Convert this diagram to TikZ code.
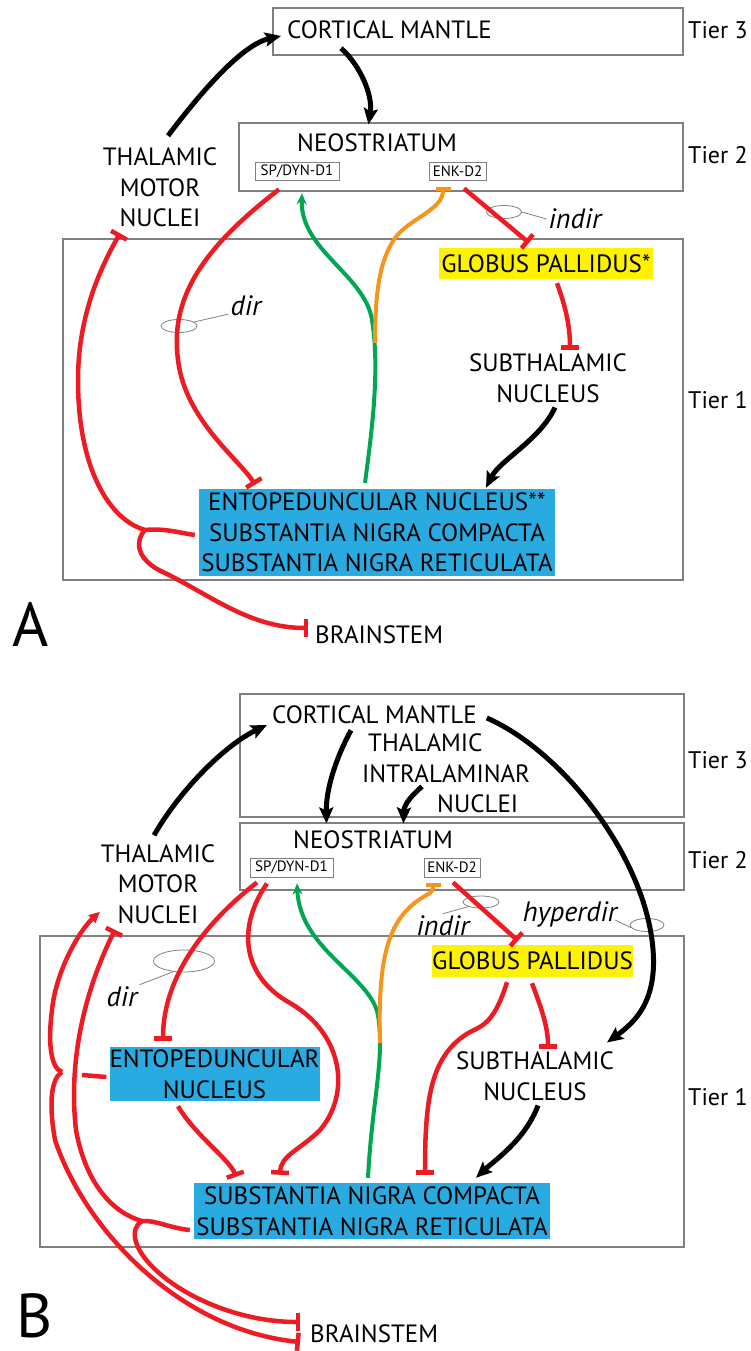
\documentclass[tikz,border=0pt]{standalone}
\usepackage{fontspec}
\setmainfont{PT Sans}
\usepackage{tikz}
\usetikzlibrary{calc, shapes.geometric, arrows.meta, positioning}

\definecolor{inhred}{RGB}{237,28,36}
\definecolor{dagreen}{RGB}{0,166,81}
\definecolor{enkorange}{RGB}{247,148,29}
\definecolor{nucblue}{RGB}{41,171,226}
\definecolor{gpyellow}{RGB}{255,242,0}
\definecolor{boxgray}{RGB}{128,128,128}

\begin{document}
\begin{tikzpicture}[
  x=1pt, y=-1pt,
  every node/.style={font=\fontsize{25}{30.5}\selectfont, inner sep=2pt},
  tierbox/.style={draw=boxgray, line width=1.1pt, inner sep=0pt},
  subbox/.style={draw=boxgray, line width=0.9pt, inner sep=0pt,
    font=\fontsize{15}{18}\selectfont},
  nucleus/.style={fill=nucblue, align=center, inner sep=0pt},
  pallidum/.style={fill=gpyellow, inner sep=0pt},
  ring/.style={ellipse, draw=boxgray, line width=0.8pt, inner sep=0pt},
  pathname/.style={font=\fontsize{28}{30}\selectfont\itshape},
  leader/.style={draw=boxgray, line width=0.8pt},
  tierlabel/.style={anchor=east, font=\fontsize{24}{30}\selectfont},
  panel/.style={anchor=west, font=\fontsize{62}{62}\selectfont},
  redline/.style={draw=inhred, line width=4.5pt},
  inhib/.style={redline, -{Bar[width=18pt]}},
  excite/.style={draw=black, line width=5pt,
    -{Stealth[length=16pt,width=14pt,inset=3pt]}},
  dopa/.style={draw=dagreen, line width=4pt, -{Stealth[length=11pt,width=10pt]}},
  enk/.style={draw=enkorange, line width=4pt, -{Bar[width=15pt]}}
]
\useasboundingbox (0,0) rectangle (750,1351);

% Panel A
\node[tierbox, minimum width=410, minimum height=47] (tierThreeA) at (478,31.5) {};
\node[tierbox, minimum width=444, minimum height=68] (tierTwoA) at (461,157) {};
\node[tierbox, minimum width=620, minimum height=341] (tierOneA) at (373,409.5) {};

\node[anchor=west] (cortA) at (285,30) {CORTICAL MANTLE};
\node (neoA) at (377,143) {NEOSTRIATUM};
\node[subbox, minimum width=84, minimum height=18] (dOneA) at (297,171) {SP/DYN-D1};
\node[subbox, minimum width=57, minimum height=18] (dTwoA) at (457.5,171) {ENK-D2};
\node[align=center] (thmA) at (160,187.5) {THALAMIC\\MOTOR\\NUCLEI};
\node[pallidum, minimum width=214, minimum height=31] (gpA) at (546,263.5) {GLOBUS PALLIDUS*};
\node[align=center] (stnA) at (548,378) {SUBTHALAMIC\\NUCLEUS};
\node[nucleus, minimum width=356, minimum height=87] (outA) at (377,532.5)
  {ENTOPEDUNCULAR NUCLEUS**\\SUBSTANTIA NIGRA COMPACTA\\SUBSTANTIA NIGRA RETICULATA};
\node[anchor=west] (brainA) at (313,635) {BRAINSTEM};

\node[tierlabel] (tThreeA) at (750,30) {Tier 3};
\node[tierlabel] (tTwoA) at (750,155) {Tier 2};
\node[tierlabel] (tOneA) at (750,400) {Tier 1};
\node[panel] (panelA) at (10,624) {A};

\node[ring, minimum width=36, minimum height=13] (dirRingA) at (179,326) {};
\node[pathname] (dirA) at (246,306) {dir};
\node[ring, minimum width=35, minimum height=13] (indirRingA) at (504,212) {};
\node[pathname] (indirA) at (575,219) {indir};

  % Draw pathways
  \draw[excite] ($(thmA.north)+(8,-10)$) .. controls (195,100) and (240,45) .. ($(cortA.west)+(-4,6)$);
  \draw[excite] ($(cortA.south west)+(56,7)$) .. controls (360,65) and (373,95) .. ($(tierTwoA.north west)+(130,2)$);
  \draw[inhib] ($(dOneA.south)+(-18,9)$) .. controls (200,250) and (170,300) .. (178,360)
    .. controls (185,420) and (240,460) .. ($(outA.north)+(-122,-4)$);
  \draw[dopa] ($(outA.north)+(-12,-6)$) .. controls (372,430) and (380,370) .. (372,320)
    .. controls (365,275) and (300,250) .. ($(dOneA.south)+(5,13)$);
  \coordinate (enkJoinA) at (375,343);
  \draw[enk] (enkJoinA) .. controls (375,290) and (380,260) .. (395,238)
    .. controls (410,218) and (443,210) .. ($(dTwoA.south)+(-14.5,7)$);
  \draw[inhib] ($(dTwoA.south)+(6.5,8)$) -- ($(gpA.north)+(-17,-5)$);
  \draw[inhib] ($(gpA.south)+(11,4)$) .. controls (565,305) and (570,325) .. ($(stnA.north)+(22,-2)$);
  \draw[excite] ($(stnA.south)+(7,3)$) .. controls (540,440) and (500,460) .. ($(outA.north)+(109,-1)$);

  \coordinate (forkA) at (145,530);
  \draw[redline] ($(outA.west)+(-4,2.5)$) .. controls (180,533) and (165,528) .. (forkA);
  \draw[inhib] (forkA) .. controls (110,520) and (78,470) .. (78,380)
    .. controls (78,310) and (105,260) .. ($(thmA.south)+(-40,4)$);
  \draw[inhib] (forkA) .. controls (135,540) and (135,560) .. (165,573)
    .. controls (210,595) and (250,628) .. ($(brainA.west)+(-5,-7)$);

  \draw[leader] (dirRingA.15) -- (dirA.205);
  \draw[leader] (indirRingA.east) -- (indirA.west);

% Panel B
\node[tierbox, minimum width=444, minimum height=123] (tierThreeB) at (462,755.5) {};
\node[tierbox, minimum width=444, minimum height=67] (tierTwoB) at (462,856.5) {};
\node[tierbox, minimum width=644, minimum height=311] (tierOneB) at (362,1091.5) {};

\node[anchor=west] (cortB) at (270,715) {CORTICAL MANTLE};
\node[anchor=west, align=left] (tinB) at (360,773.5)
  {\hspace*{6pt}THALAMIC\\INTRALAMINAR\\\hspace*{75pt}NUCLEI};
\node (neoB) at (373,840) {NEOSTRIATUM};
\node[subbox, minimum width=83, minimum height=19] (dOneB) at (291.5,867.5) {SP/DYN-D1};
\node[subbox, minimum width=56, minimum height=19] (dTwoB) at (452,867.5) {ENK-D2};
\node[align=center] (thmB) at (158,884) {THALAMIC\\MOTOR\\NUCLEI};
\node[pallidum, minimum width=201, minimum height=32] (gpB) at (532.5,961) {GLOBUS PALLIDUS};
\node[align=center] (stnB) at (535,1076) {SUBTHALAMIC\\NUCLEUS};
\node[nucleus, minimum width=209, minimum height=54] (epB) at (214.5,1074) {ENTOPEDUNCULAR\\NUCLEUS};
\node[nucleus, minimum width=356, minimum height=56] (snB) at (372,1211)
  {SUBSTANTIA NIGRA COMPACTA\\SUBSTANTIA NIGRA RETICULATA};
\node[anchor=west] (brainB) at (308,1334) {BRAINSTEM};

\node[tierlabel] (tThreeB) at (750,760) {Tier 3};
\node[tierlabel] (tTwoB) at (750,860) {Tier 2};
\node[tierlabel] (tOneB) at (750,1097) {Tier 1};
\node[panel] (panelB) at (14,1316) {B};

\node[ring, minimum width=61, minimum height=22] (dirRingB) at (184,961) {};
\node[pathname] (dirB) at (122,997) {dir};
\node[ring, minimum width=36, minimum height=12] (indirRingB) at (481,902) {};
\node[pathname] (indirB) at (443,926) {indir};
\node[ring, minimum width=34, minimum height=13] (hyperRingB) at (647,925) {};
\node[pathname] (hyperB) at (570,914) {hyperdir};

  % Draw pathways
  \draw[excite] ($(thmB.north)+(-4,-7)$) .. controls (180,790) and (225,745) .. ($(cortB.west)+(-3,10)$);
  \draw[excite] ($(cortB.south west)+(81,4)$) .. controls (335,760) and (326,790) .. ($(tierTwoB.north west)+(87,1)$);
  \draw[excite] ($(tinB.west)+(62,13)$) .. controls (410,797) and (404,805) .. ($(tierTwoB.north west)+(164,1)$);
  \draw[excite] ($(cortB.east)+(8,3)$) .. controls (560,750) and (640,850) .. (652,940)
    .. controls (660,1000) and (635,1022) .. ($(stnB.north)+(72,-7)$);
  \draw[inhib] ($(dOneB.south)+(-34.5,5)$) .. controls (215,915) and (163,970) .. ($(epB.north)+(-51.5,-6)$);
  \draw[inhib] ($(dOneB.south)+(-24.5,6)$) .. controls (238,925) and (240,975) .. (290,1003)
    .. controls (345,1035) and (350,1095) .. (320,1130)
    .. controls (300,1150) and (281,1155) .. ($(snB.north)+(-92,-8)$);
  \draw[dopa] ($(snB.north)+(-4,-5)$) .. controls (372,1100) and (385,1060) .. (378,1015)
    .. controls (370,975) and (300,950) .. ($(dOneB.south)+(5.5,6)$);
  \coordinate (enkJoinB) at (380,1043);
  \draw[enk] (enkJoinB) .. controls (378,970) and (385,930) .. (410,907)
    .. controls (425,893) and (433,895) .. ($(dTwoB.south)+(-19,6)$);
  \draw[inhib] ($(dTwoB.south)+(1,5)$) -- ($(gpB.north)+(-14.5,-4)$);
  \draw[inhib] ($(gpB.south)+(-25.5,5)$) .. controls (495,1020) and (485,1025) .. (470,1032)
    .. controls (430,1055) and (425,1100) .. ($(snB.north)+(53,-8)$);
  \draw[inhib] ($(gpB.south)+(-0.5,6)$) .. controls (540,1005) and (548,1025) .. ($(stnB.north)+(13,-1)$);
  \draw[excite] ($(stnB.south)+(3,3)$) .. controls (525,1140) and (495,1160) .. ($(snB.north)+(104,-5)$);
  \draw[inhib] ($(epB.south)+(-36.5,5)$) .. controls (195,1135) and (230,1160) .. ($(snB.north)+(-136,-6)$);

  \coordinate (forkEPB) at (62,1072);
  \coordinate (epCutB) at (82,1075);
  \coordinate (forkSNB) at (142,1221);
  \draw[redline] ($(epB.west)+(-3,3)$) -- (epCutB);
  \draw[redline, -{Triangle[length=11pt,width=10pt]}] (forkEPB) .. controls (50,1068) and (48,1040) .. (52,1010)
    .. controls (56,970) and (80,930) .. ($(thmB.south)+(-58,-14)$);
  \draw[inhib] (forkEPB) .. controls (52,1078) and (48,1100) .. (55,1140)
    .. controls (85,1230) and (180,1330) .. ($(brainB.west)+(-8,8)$);
  \draw[redline] ($(snB.west)+(-4,19)$) .. controls (170,1228) and (155,1220) .. (forkSNB);
  \draw[inhib] (forkSNB) .. controls (110,1212) and (85,1180) .. (76,1130)
    .. controls (68,1060) and (85,990) .. ($(thmB.south)+(-43,4)$);
  \draw[inhib] (forkSNB) .. controls (130,1228) and (130,1250) .. (165,1278)
    .. controls (200,1305) and (250,1322) .. ($(brainB.west)+(-8,-12)$);

  \draw[leader] (dirRingB.225) -- (dirB.north east);
  \draw[leader] (indirRingB.200) -- (indirB.north);
  \draw[leader] (hyperRingB.190) -- ($(hyperB.east)+(-4,6)$);

\end{tikzpicture}
\end{document}
